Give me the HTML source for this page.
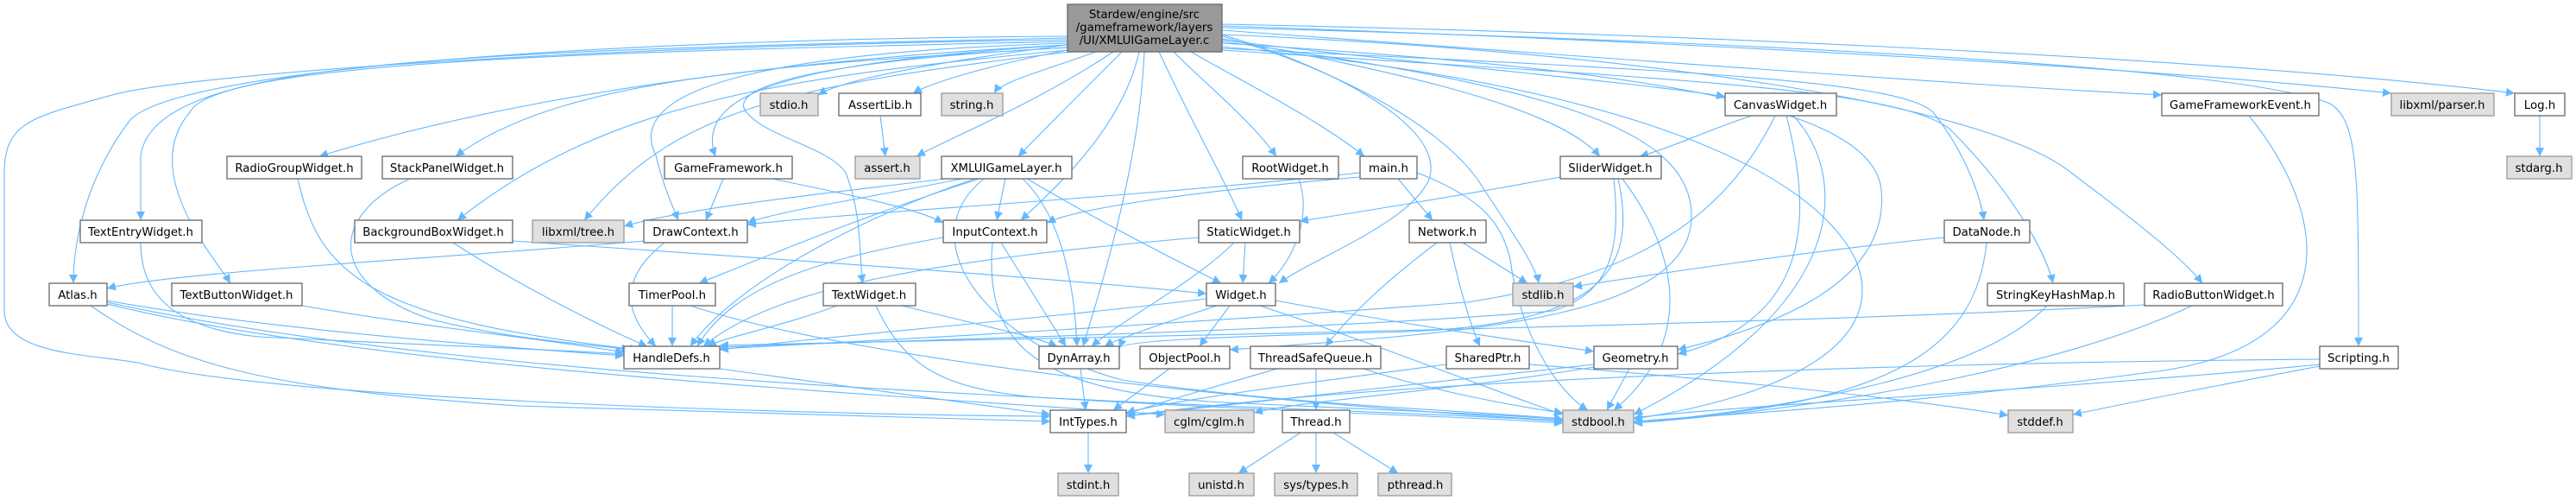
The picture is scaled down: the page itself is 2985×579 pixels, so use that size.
<!DOCTYPE html>
<html><head><meta charset="utf-8"><style>
html,body{margin:0;padding:0;background:#fff;}
svg{display:block;}
text{font-family:"DejaVu Sans","Liberation Sans",sans-serif;font-size:13.3px;fill:#000;}
.e{fill:none;stroke:#63b8ff;stroke-width:1.1;marker-end:url(#a);}
.n{fill:#fff;stroke:#666;stroke-width:1.3;}
.g{fill:#e0e0e0;stroke:#999;stroke-width:1.3;}
</style></head><body>
<svg width="2985" height="579" viewBox="0 0 2985 579" xmlns="http://www.w3.org/2000/svg">
<defs><marker id="a" markerUnits="userSpaceOnUse" markerWidth="12" markerHeight="10" refX="10" refY="5" orient="auto"><path d="M0,0 L10,5 L0,10 z" fill="#63b8ff"/></marker></defs>
<g>
<path class="e" d="M1237,42 C700,45 200,80 150,140 C90,220 85,300 85,328"/>
<path class="e" d="M1237,44 C500,60 180,70 163,180 L163,255"/>
<path class="e" d="M1237,46 C600,55 200,90 130,110 C40,135 5,140 5,200 L5,360 C5,410 100,410 160,420 C300,460 900,480 1217,482"/>
<path class="e" d="M1237,48 C700,60 250,70 220,130 C160,200 250,300 267,328"/>
<path class="e" d="M1237,52 C900,70 600,110 370,181"/>
<path class="e" d="M1237,55 C900,75 650,90 528,181"/>
<path class="e" d="M1237,58 C900,90 700,120 530,255"/>
<path class="e" d="M1240,60 C900,100 780,130 677,255"/>
<path class="e" d="M1240,50 C900,60 720,100 760,180 C770,220 780,240 786,255"/>
<path class="e" d="M1240,52 C950,70 800,100 829,181"/>
<path class="e" d="M1240,55 C950,70 840,100 865,130 C890,160 960,170 980,200 C1000,250 995,300 1000,328"/>
<path class="e" d="M1237,52 C1100,70 980,90 948,110"/>
<path class="e" d="M1237,58 C1150,75 1080,95 1058,108"/>
<path class="e" d="M1270,60 C1200,85 1160,95 1152,108"/>
<path class="e" d="M1290,60 C1200,120 1100,160 1062,181"/>
<path class="e" d="M1300,60 C1250,110 1210,150 1180,181"/>
<path class="e" d="M1320,60 C1300,150 1220,220 1183,255"/>
<path class="e" d="M1326,60 C1320,200 1270,350 1255,401"/>
<path class="e" d="M1343,60 C1380,140 1420,210 1439,255"/>
<path class="e" d="M1360,60 C1400,100 1450,140 1479,181"/>
<path class="e" d="M1380,60 C1450,100 1530,140 1581,181"/>
<path class="e" d="M1416,40 C1550,80 1680,150 1655,210 C1630,260 1520,300 1482,328"/>
<path class="e" d="M1416,42 C1550,80 1680,150 1720,220 C1760,280 1780,310 1783,328"/>
<path class="e" d="M1416,45 C1600,80 1800,120 1854,181"/>
<path class="e" d="M1416,46 C1600,70 1900,95 1999,112"/>
<path class="e" d="M1416,48 C1800,100 1960,150 1960,250 C1960,370 1700,385 1425,405"/>
<path class="e" d="M1416,50 C1900,80 2170,120 2180,220 C2190,330 2050,380 1944,405"/>
<path class="e" d="M1416,54 C1900,100 2100,200 2150,300 C2200,420 2000,470 1893,485"/>
<path class="e" d="M1416,56 C1900,80 2200,90 2240,130 C2280,180 2295,230 2299,255"/>
<path class="e" d="M1416,58 C1900,90 2200,100 2260,150 C2330,220 2370,290 2379,328"/>
<path class="e" d="M1416,40 C1900,60 2300,120 2400,200 C2480,260 2530,300 2552,328"/>
<path class="e" d="M1416,35 C1900,70 2300,100 2505,110"/>
<path class="e" d="M1416,30 C2000,50 2500,80 2771,108"/>
<path class="e" d="M1416,28 C2000,40 2600,70 2914,108"/>
<path class="e" d="M1416,32 C2100,50 2600,80 2700,120 C2733,140 2733,200 2733,401"/>
<path class="e" d="M1020,134 L1026,181"/>
<path class="e" d="M838,207 L818,255"/>
<path class="e" d="M895,207 C980,225 1060,240 1093,258"/>
<path class="e" d="M1095,207 C950,225 800,240 723,262"/>
<path class="e" d="M1115,207 C1000,230 900,245 866,258"/>
<path class="e" d="M1165,207 L1155,255"/>
<path class="e" d="M1135,207 C1000,250 880,300 810,328"/>
<path class="e" d="M1130,207 C1000,250 850,330 800,401"/>
<path class="e" d="M1185,207 C1230,250 1245,330 1248,401"/>
<path class="e" d="M1190,207 C1280,260 1360,300 1415,328"/>
<path class="e" d="M1140,207 C1050,280 1150,400 1300,440 C1500,470 1700,475 1811,485"/>
<path class="e" d="M747,279 C500,300 200,315 124,334"/>
<path class="e" d="M770,281 C720,320 720,360 760,401"/>
<path class="e" d="M779,354 L779,401"/>
<path class="e" d="M800,354 C1000,420 1500,470 1811,487"/>
<path class="e" d="M970,354 C900,380 840,390 820,401"/>
<path class="e" d="M1045,354 C1150,380 1200,390 1225,401"/>
<path class="e" d="M1015,354 C1050,430 1100,450 1200,460 C1500,475 1700,480 1811,488"/>
<path class="e" d="M1093,275 C950,300 850,330 808,401"/>
<path class="e" d="M1160,281 L1235,401"/>
<path class="e" d="M1150,281 C1140,400 1200,450 1400,465 C1600,475 1750,480 1811,486"/>
<path class="e" d="M1443,281 L1440,328"/>
<path class="e" d="M1430,281 C1380,330 1300,370 1265,401"/>
<path class="e" d="M1389,275 C1100,300 900,330 815,401"/>
<path class="e" d="M1398,346 C1200,370 950,390 834,405"/>
<path class="e" d="M1410,354 C1330,380 1290,395 1280,401"/>
<path class="e" d="M1425,354 L1390,401"/>
<path class="e" d="M1478,348 C1650,380 1800,400 1847,407"/>
<path class="e" d="M1460,354 C1600,400 1750,460 1811,480"/>
<path class="e" d="M594,279 C900,300 1200,320 1398,340"/>
<path class="e" d="M525,281 C600,330 700,380 750,401"/>
<path class="e" d="M345,207 C370,320 430,370 740,405"/>
<path class="e" d="M475,207 C380,250 380,330 500,370 C600,395 700,400 730,405"/>
<path class="e" d="M163,281 C163,340 200,380 300,390 C500,400 650,405 723,410"/>
<path class="e" d="M350,354 C500,380 650,395 723,408"/>
<path class="e" d="M124,348 C300,380 550,400 723,412"/>
<path class="e" d="M105,354 C200,420 300,450 600,470 C900,480 1100,485 1217,488"/>
<path class="e" d="M124,350 C400,410 800,440 1200,460 C1500,478 1700,482 1811,490"/>
<path class="e" d="M124,352 C400,420 900,450 1350,480"/>
<path class="e" d="M834,427 C1000,450 1150,470 1217,480"/>
<path class="e" d="M1252,427 L1258,475"/>
<path class="e" d="M1355,427 L1290,475"/>
<path class="e" d="M1847,422 C1600,450 1400,470 1305,482"/>
<path class="e" d="M1847,425 C1700,450 1500,465 1453,478"/>
<path class="e" d="M1888,427 L1862,475"/>
<path class="e" d="M1261,501 L1261,548"/>
<path class="e" d="M1576,205 C1400,220 1250,240 1213,258"/>
<path class="e" d="M1576,200 C1300,230 1000,245 866,260"/>
<path class="e" d="M1620,207 L1660,255"/>
<path class="e" d="M1642,200 C1720,230 1740,260 1750,300 C1760,380 1800,450 1840,475"/>
<path class="e" d="M1505,207 C1520,250 1500,300 1470,328"/>
<path class="e" d="M1695,281 L1770,328"/>
<path class="e" d="M1665,281 C1600,330 1560,370 1536,401"/>
<path class="e" d="M1680,281 C1690,330 1705,380 1715,401"/>
<path class="e" d="M1525,427 L1525,475"/>
<path class="e" d="M1480,427 C1400,450 1330,470 1305,480"/>
<path class="e" d="M1580,427 C1650,450 1750,470 1811,478"/>
<path class="e" d="M1507,501 L1435,548"/>
<path class="e" d="M1525,501 L1525,548"/>
<path class="e" d="M1545,501 L1620,548"/>
<path class="e" d="M1772,422 C2000,440 2200,460 2327,481"/>
<path class="e" d="M1676,422 C1500,445 1350,465 1305,478"/>
<path class="e" d="M1808,205 C1700,225 1580,245 1506,256"/>
<path class="e" d="M1870,207 C1880,300 1860,340 1800,360 C1500,385 1000,395 834,402"/>
<path class="e" d="M1875,207 C1900,320 1850,380 1600,385 C1400,390 1300,395 1297,403"/>
<path class="e" d="M1880,207 C1950,300 1960,400 1870,475"/>
<path class="e" d="M2030,134 C1980,150 1940,170 1900,181"/>
<path class="e" d="M2057,134 C2000,250 1900,320 1700,350 C1300,380 1000,395 834,404"/>
<path class="e" d="M2070,134 C2100,250 2100,370 1944,410"/>
<path class="e" d="M2078,134 C2140,200 2150,350 1893,480"/>
<path class="e" d="M2253,275 C2100,290 1900,320 1823,332"/>
<path class="e" d="M2302,281 C2290,400 2200,470 1893,488"/>
<path class="e" d="M2372,354 C2300,430 2100,470 1893,490"/>
<path class="e" d="M2485,353 C2000,380 1000,395 834,400"/>
<path class="e" d="M2540,354 C2400,420 2150,470 1893,490"/>
<path class="e" d="M2606,134 C2700,250 2720,400 2500,430 C2200,470 2000,480 1893,488"/>
<path class="e" d="M2688,416 C2200,420 1600,440 1305,482"/>
<path class="e" d="M2688,422 C2400,450 2000,470 1893,484"/>
<path class="e" d="M2688,424 C2550,450 2450,470 2402,480"/>
<path class="e" d="M2943,134 L2943,181"/>
</g>
<g text-anchor="middle">
<rect x="1237" y="5" width="179" height="55" fill="#999" stroke="#666" stroke-width="1.3"/>
<text x="1326" y="21">Stardew/engine/src</text><text x="1326" y="36">/gameframework/layers</text><text x="1326" y="51">/UI/XMLUIGameLayer.c</text>

<rect class="g" x="881" y="108" width="67" height="26"/><text x="914" y="126">stdio.h</text>
<rect class="n" x="972" y="108" width="95" height="26"/><text x="1020" y="126">AssertLib.h</text>
<rect class="g" x="1091" y="108" width="71" height="26"/><text x="1126" y="126">string.h</text>
<rect class="n" x="1999" y="108" width="129" height="26"/><text x="2063" y="126">CanvasWidget.h</text>
<rect class="n" x="2505" y="108" width="182" height="26"/><text x="2596" y="126">GameFrameworkEvent.h</text>
<rect class="g" x="2771" y="108" width="119" height="26"/><text x="2830" y="126">libxml/parser.h</text>
<rect class="n" x="2914" y="108" width="58" height="26"/><text x="2943" y="126">Log.h</text>

<rect class="n" x="263" y="181" width="156" height="26"/><text x="341" y="199">RadioGroupWidget.h</text>
<rect class="n" x="443" y="181" width="151" height="26"/><text x="518" y="199">StackPanelWidget.h</text>
<rect class="n" x="770" y="181" width="148" height="26"/><text x="844" y="199">GameFramework.h</text>
<rect class="g" x="991" y="181" width="75" height="26"/><text x="1028" y="199">assert.h</text>
<rect class="n" x="1091" y="181" width="151" height="26"/><text x="1166" y="199">XMLUIGameLayer.h</text>
<rect class="n" x="1440" y="181" width="111" height="26"/><text x="1495" y="199">RootWidget.h</text>
<rect class="n" x="1576" y="181" width="66" height="26"/><text x="1609" y="199">main.h</text>
<rect class="n" x="1808" y="181" width="117" height="26"/><text x="1866" y="199">SliderWidget.h</text>
<rect class="g" x="2905" y="181" width="75" height="26"/><text x="2942" y="199">stdarg.h</text>

<rect class="n" x="93" y="255" width="141" height="26"/><text x="163" y="273">TextEntryWidget.h</text>
<rect class="n" x="411" y="255" width="183" height="26"/><text x="502" y="273">BackgroundBoxWidget.h</text>
<rect class="g" x="617" y="255" width="106" height="26"/><text x="670" y="273">libxml/tree.h</text>
<rect class="n" x="746" y="255" width="120" height="26"/><text x="806" y="273">DrawContext.h</text>
<rect class="n" x="1093" y="255" width="120" height="26"/><text x="1153" y="273">InputContext.h</text>
<rect class="n" x="1389" y="255" width="117" height="26"/><text x="1447" y="273">StaticWidget.h</text>
<rect class="n" x="1633" y="255" width="89" height="26"/><text x="1677" y="273">Network.h</text>
<rect class="n" x="2253" y="255" width="99" height="26"/><text x="2302" y="273">DataNode.h</text>

<rect class="n" x="57" y="328" width="67" height="26"/><text x="90" y="346">Atlas.h</text>
<rect class="n" x="199" y="328" width="151" height="26"/><text x="274" y="346">TextButtonWidget.h</text>
<rect class="n" x="729" y="328" width="100" height="26"/><text x="779" y="346">TimerPool.h</text>
<rect class="n" x="954" y="328" width="107" height="26"/><text x="1007" y="346">TextWidget.h</text>
<rect class="n" x="1398" y="328" width="80" height="26"/><text x="1438" y="346">Widget.h</text>
<rect class="g" x="1753" y="328" width="70" height="26"/><text x="1788" y="346">stdlib.h</text>
<rect class="n" x="2303" y="328" width="158" height="26"/><text x="2382" y="346">StringKeyHashMap.h</text>
<rect class="n" x="2485" y="328" width="160" height="26"/><text x="2565" y="346">RadioButtonWidget.h</text>

<rect class="n" x="723" y="401" width="111" height="26"/><text x="778" y="419">HandleDefs.h</text>
<rect class="n" x="1204" y="401" width="93" height="26"/><text x="1250" y="419">DynArray.h</text>
<rect class="n" x="1321" y="401" width="104" height="26"/><text x="1373" y="419">ObjectPool.h</text>
<rect class="n" x="1449" y="401" width="151" height="26"/><text x="1524" y="419">ThreadSafeQueue.h</text>
<rect class="n" x="1676" y="401" width="96" height="26"/><text x="1724" y="419">SharedPtr.h</text>
<rect class="n" x="1847" y="401" width="97" height="26"/><text x="1895" y="419">Geometry.h</text>
<rect class="n" x="2688" y="401" width="91" height="26"/><text x="2733" y="419">Scripting.h</text>

<rect class="n" x="1217" y="475" width="88" height="26"/><text x="1261" y="493">IntTypes.h</text>
<rect class="g" x="1350" y="475" width="103" height="26"/><text x="1401" y="493">cglm/cglm.h</text>
<rect class="n" x="1486" y="475" width="78" height="26"/><text x="1525" y="493">Thread.h</text>
<rect class="g" x="1811" y="475" width="82" height="26"/><text x="1852" y="493">stdbool.h</text>
<rect class="g" x="2327" y="475" width="75" height="26"/><text x="2364" y="493">stddef.h</text>

<rect class="g" x="1226" y="548" width="70" height="26"/><text x="1261" y="566">stdint.h</text>
<rect class="g" x="1378" y="548" width="75" height="26"/><text x="1415" y="566">unistd.h</text>
<rect class="g" x="1477" y="548" width="96" height="26"/><text x="1525" y="566">sys/types.h</text>
<rect class="g" x="1597" y="548" width="85" height="26"/><text x="1640" y="566">pthread.h</text>
</g>
</svg>
</body></html>
